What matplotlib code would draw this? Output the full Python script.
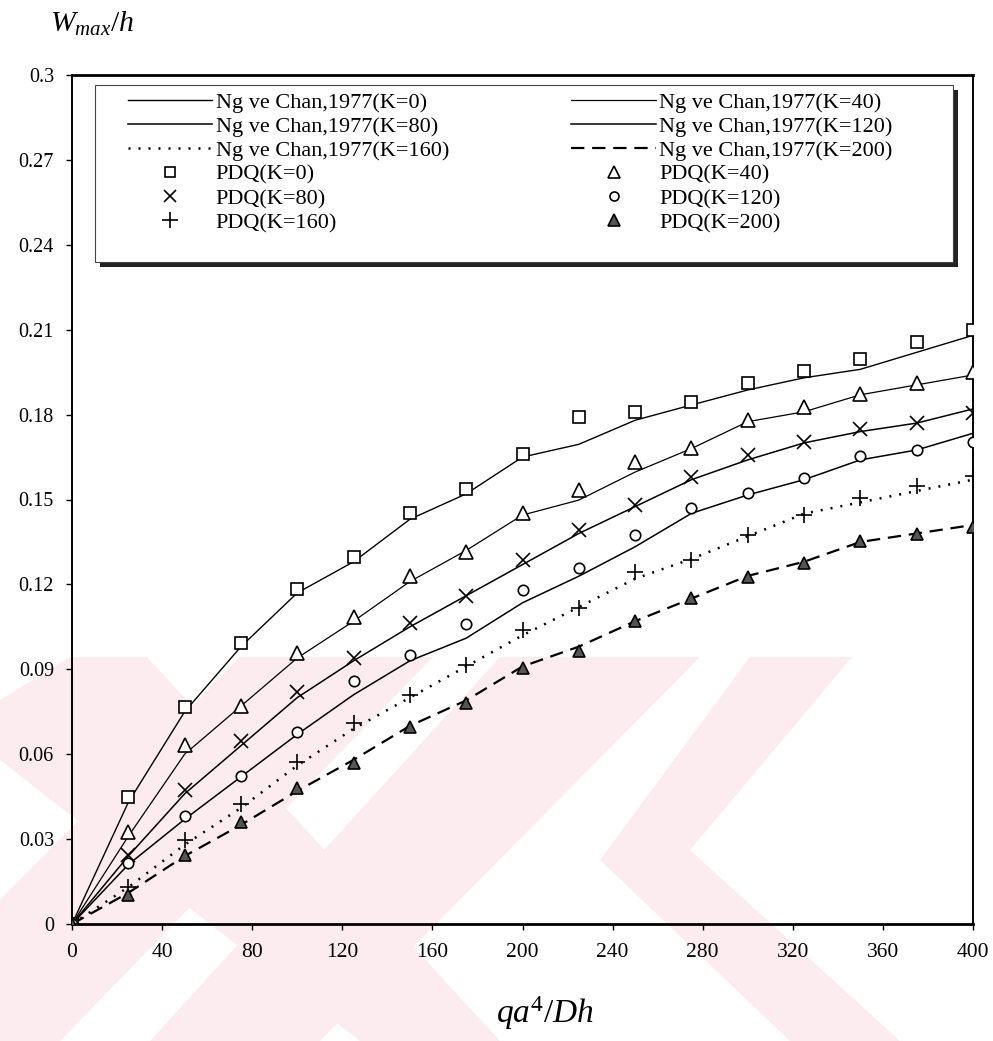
import matplotlib
matplotlib.use("Agg")

import matplotlib.pyplot as plt
from matplotlib.patches import Polygon, Rectangle
from matplotlib.lines import Line2D


# =========================
# Fonts
# =========================
plt.rcParams["font.family"] = ["Liberation Serif", "DejaVu Serif"]
plt.rcParams["mathtext.fontset"] = "custom"
plt.rcParams["mathtext.rm"] = "Liberation Serif"
plt.rcParams["mathtext.it"] = "Liberation Serif:italic"


# =========================
# Data
# =========================
load = [0, 25, 50, 75, 100, 125, 150, 175, 200,
        225, 250, 275, 300, 325, 350, 375, 400]

x_ticks = [0, 40, 80, 120, 160, 200, 240, 280, 320, 360, 400]
y_ticks = [0, 0.03, 0.06, 0.09, 0.12, 0.15, 0.18, 0.21, 0.24, 0.27, 0.3]
y_tick_labels = ["0", "0.03", "0.06", "0.09", "0.12", "0.15",
                 "0.18", "0.21", "0.24", "0.27", "0.3"]

# Ng ve Chan, 1977 curves
ng_k0 = [0, 0.043, 0.075, 0.098, 0.117, 0.128, 0.143, 0.152, 0.165,
         0.1695, 0.178, 0.1834, 0.1887, 0.193, 0.196, 0.202, 0.208]
ng_k40 = [0, 0.031, 0.060, 0.077, 0.094, 0.107, 0.121, 0.132, 0.1445,
          0.1498, 0.1597, 0.168, 0.1775, 0.181, 0.187, 0.1905, 0.194]
ng_k80 = [0, 0.024, 0.046, 0.063, 0.080, 0.093, 0.105, 0.116, 0.127,
          0.138, 0.1475, 0.157, 0.164, 0.170, 0.174, 0.177, 0.182]
ng_k120 = [0, 0.021, 0.037, 0.052, 0.067, 0.081, 0.093, 0.101, 0.1135,
           0.1229, 0.1333, 0.1451, 0.1516, 0.157, 0.164, 0.1675, 0.1734]
ng_k160 = [0, 0.013, 0.028, 0.041, 0.056, 0.069, 0.080, 0.091, 0.102,
           0.112, 0.122, 0.129, 0.137, 0.145, 0.149, 0.153, 0.157]
ng_k200 = [0, 0.011, 0.024, 0.035, 0.047, 0.058, 0.070, 0.079, 0.091,
           0.098, 0.107, 0.115, 0.123, 0.128, 0.135, 0.138, 0.141]

# PDQ points
pdq_k0 = [0, 0.045, 0.0768, 0.0992, 0.1183, 0.1298, 0.1451, 0.1537, 0.1661,
          0.1793, 0.1808, 0.1846, 0.191, 0.1955, 0.1995, 0.2055, 0.2098]
pdq_k40 = [0, 0.0326, 0.0633, 0.077, 0.0959, 0.1086, 0.123, 0.1316, 0.1451,
           0.1534, 0.1634, 0.1681, 0.1781, 0.1828, 0.1873, 0.1913, 0.195]
pdq_k80 = [0, 0.0244, 0.0472, 0.0648, 0.0821, 0.0939, 0.1065, 0.1159, 0.1286,
           0.1392, 0.148, 0.1578, 0.1657, 0.1704, 0.1748, 0.1769, 0.1805]
pdq_k120 = [0, 0.0214, 0.038, 0.0524, 0.0677, 0.0859, 0.0951, 0.1059, 0.118,
            0.1257, 0.1375, 0.1469, 0.1522, 0.1575, 0.1654, 0.1675, 0.1704]
pdq_k160 = [0, 0.0129, 0.0297, 0.0424, 0.0574, 0.0709, 0.0809, 0.0915, 0.104,
            0.1115, 0.1245, 0.1286, 0.1375, 0.1445, 0.1504, 0.1548, 0.1583]
pdq_k200 = [0, 0.0102, 0.0244, 0.0359, 0.048, 0.0568, 0.0697, 0.078, 0.0905,
            0.0966, 0.1072, 0.1151, 0.1227, 0.1277, 0.1355, 0.1378, 0.1402]


# =========================
# Figure
# =========================
W, H = 993, 1041
fig = plt.figure(figsize=(W / 100, H / 100), dpi=100)


def fx(px):
    return px / W


def fy(py):
    return 1 - py / H


# watermark in the lower part of the page
pink = "#fcebef"
watermark = [
    [(0, 700), (70, 657), (147, 657), (500, 1041), (360, 1041), (0, 760)],
    [(240, 657), (433, 657), (60, 1041), (0, 1041), (0, 900)],
    [(500, 657), (700, 657), (320, 1041), (150, 1041)],
    [(750, 657), (852, 657), (690, 850), (900, 1041), (790, 1041), (600, 860)],
]
for poly in watermark:
    fig.patches.append(
        Polygon([(fx(a), fy(b)) for a, b in poly], closed=True,
                transform=fig.transFigure, facecolor=pink,
                edgecolor="none", zorder=-10)
    )

ax = fig.add_axes([fx(72), fy(924), fx(973) - fx(72), fy(75) - fy(924)])
ax.patch.set_alpha(0)


# =========================
# Curves
# =========================
ax.plot(load, ng_k0, color="black", lw=1.0, zorder=2)
ax.plot(load, ng_k40, color="black", lw=0.9, zorder=2)
ax.plot(load, ng_k80, color="black", lw=1.1, zorder=2)
ax.plot(load, ng_k120, color="black", lw=1.1, zorder=2)
ax.plot(load, ng_k160, color="black", lw=1.8, ls=(0, (0.8, 3.2)), zorder=2)
ax.plot(load, ng_k200, color="black", lw=1.6, ls=(0, (6, 3.5)), zorder=2)

mk = dict(ls="none", color="black", mew=1.2, zorder=3)
ax.plot(load, pdq_k0, marker="s", ms=8.5, mfc="white", **mk)
ax.plot(load, pdq_k40, marker="^", ms=9.5, mfc="white", **mk)
ax.plot(load, pdq_k80, marker="x", ms=10, **mk)
ax.plot(load, pdq_k120, marker="o", ms=7.5, mfc="white", **mk)
ax.plot(load, pdq_k160, marker="+", ms=12, **mk)
ax.plot(load, pdq_k200, marker="^", ms=9, mfc="#555555", **mk)


# =========================
# Axes
# =========================
ax.set_xlim(0, 400)
ax.set_ylim(0, 0.3)
ax.set_xticks(x_ticks)
ax.set_xticklabels([str(v) for v in x_ticks])
ax.set_yticks(y_ticks)
ax.set_yticklabels(y_tick_labels)
ax.tick_params(axis="both", direction="out", length=4, width=1.0,
               labelsize=14.5, color="black")
ax.tick_params(axis="y", pad=9)
ax.tick_params(axis="x", pad=10, labelsize=15.5)
for side in ["left", "right"]:
    ax.spines[side].set_linewidth(1.4)
for side in ["top", "bottom"]:
    ax.spines[side].set_linewidth(2.0)

fig.text(fx(50), fy(24), r"$W_{max}/h$", fontsize=21.5,
         ha="left", va="center")
fig.text(fx(545), fy(1013), r"$qa^4/Dh$", fontsize=24,
         ha="center", va="center")


# =========================
# Legend
# =========================
box_l, box_r, box_t, box_b = 95, 953, 85, 262
fig.patches.append(
    Rectangle((fx(box_l + 5), fy(box_b + 5)), fx(box_r - box_l),
              fy(box_t) - fy(box_b), transform=fig.transFigure,
              facecolor="#222222", edgecolor="none", zorder=4)
)
fig.patches.append(
    Rectangle((fx(box_l), fy(box_b)), fx(box_r - box_l),
              fy(box_t) - fy(box_b), transform=fig.transFigure,
              facecolor="white", edgecolor="#444444", lw=0.8, zorder=5)
)

line_kw = dict(color="black")
handles = [
    Line2D([], [], lw=1.0, **line_kw),
    Line2D([], [], lw=1.1, **line_kw),
    Line2D([], [], lw=1.8, ls=(0, (0.8, 3.2)), **line_kw),
    Line2D([], [], ls="none", marker="s", ms=7, mfc="white", mew=1.2, **line_kw),
    Line2D([], [], ls="none", marker="x", ms=9, mew=1.2, **line_kw),
    Line2D([], [], ls="none", marker="+", ms=12, mew=1.2, **line_kw),
    Line2D([], [], lw=0.9, **line_kw),
    Line2D([], [], lw=1.1, **line_kw),
    Line2D([], [], lw=1.6, ls=(0, (6, 3.5)), **line_kw),
    Line2D([], [], ls="none", marker="^", ms=8, mfc="white", mew=1.2, **line_kw),
    Line2D([], [], ls="none", marker="o", ms=6.5, mfc="white", mew=1.2, **line_kw),
    Line2D([], [], ls="none", marker="^", ms=8, mfc="#555555", mew=1.2, **line_kw),
]
labels = [
    "Ng ve Chan,1977(K=0)",
    "Ng ve Chan,1977(K=80)",
    "Ng ve Chan,1977(K=160)",
    "PDQ(K=0)",
    "PDQ(K=80)",
    "PDQ(K=160)",
    "Ng ve Chan,1977(K=40)",
    "Ng ve Chan,1977(K=120)",
    "Ng ve Chan,1977(K=200)",
    "PDQ(K=40)",
    "PDQ(K=120)",
    "PDQ(K=200)",
]

leg = fig.legend(handles, labels, ncol=2, loc="upper left",
                 bbox_to_anchor=(fx(128), fy(92)), frameon=False,
                 fontsize=16, handlelength=3.8, handletextpad=0.15,
                 columnspacing=5.5, labelspacing=0.16, borderpad=0,
                 borderaxespad=0, numpoints=1)
leg.set_zorder(6)

fig.savefig("out.png", dpi=100)
